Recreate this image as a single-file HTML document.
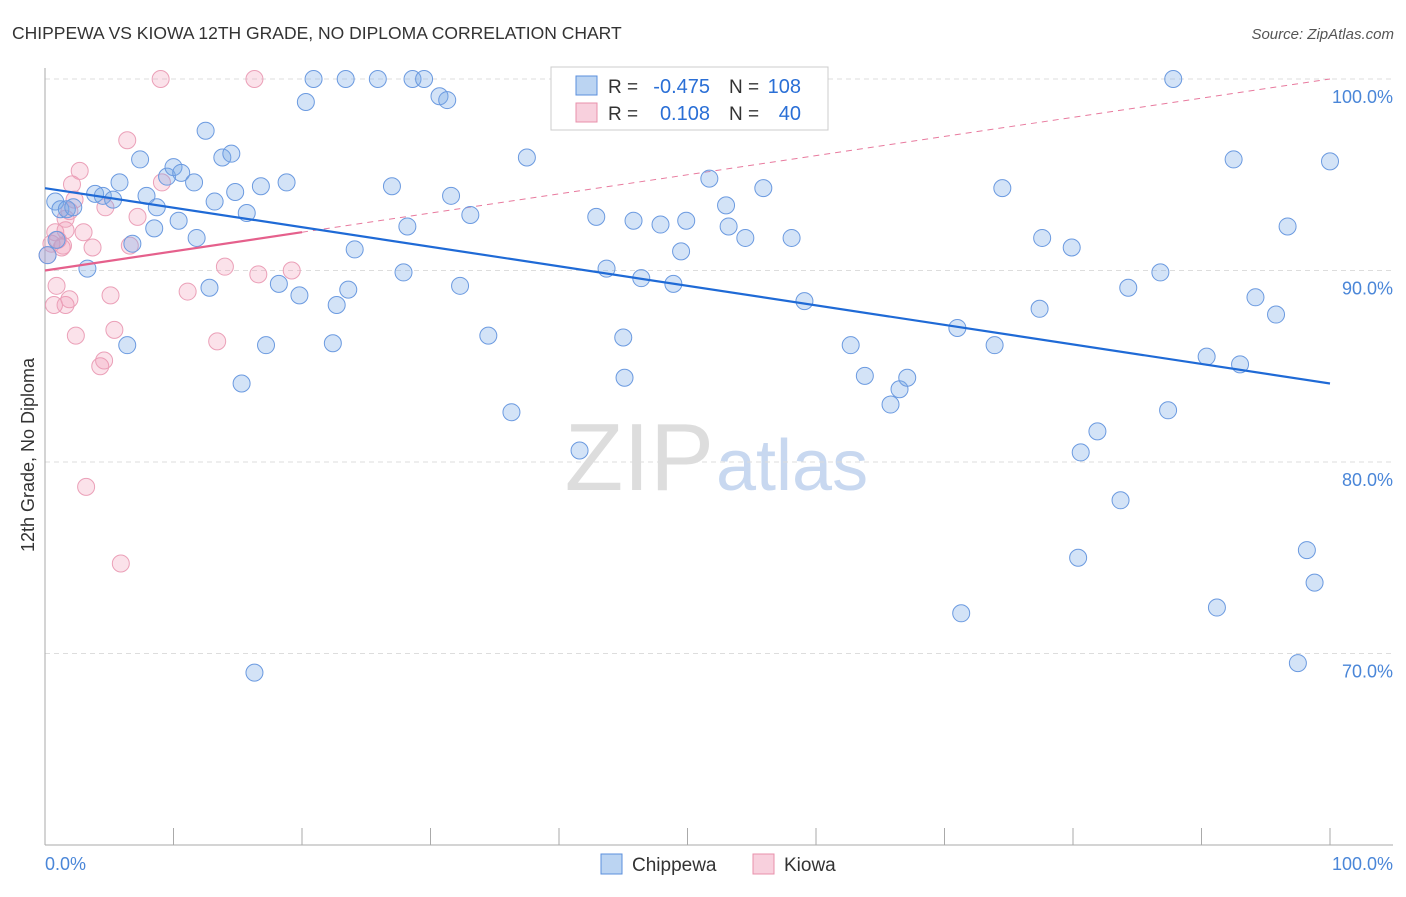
<!DOCTYPE html>
<html><head><meta charset="utf-8"><style>
body{margin:0;background:#fff;font-family:"Liberation Sans",sans-serif;}
svg text{font-family:"Liberation Sans",sans-serif;}
</style></head><body>
<svg id="c" width="1406" height="892">
<text x="12" y="39" font-size="17.5" fill="#333">CHIPPEWA VS KIOWA 12TH GRADE, NO DIPLOMA CORRELATION CHART</text>
<text x="1394" y="39" font-size="15" fill="#555" text-anchor="end" font-style="italic">Source: ZipAtlas.com</text>
<text x="714" y="490" font-size="96" fill="#ddd" text-anchor="end" font-family="Liberation Serif">ZIP</text>
<text x="716" y="490" font-size="72" fill="#c8d8f0">atlas</text>
<text transform="translate(34,455) rotate(-90)" font-size="18" fill="#333" text-anchor="middle">12th Grade, No Diploma</text>
<g id="grid"></g><g id="marks"></g>
<g>
<rect x="551" y="67" width="277" height="63" fill="#fff" stroke="#ccc"/>
<rect x="576" y="76" width="21" height="19" fill="rgba(120,170,230,0.5)" stroke="#5b8fdc"/>
<rect x="576" y="103" width="21" height="19" fill="rgba(240,150,180,0.45)" stroke="#e890ab"/>
<text x="608" y="93" font-size="19" fill="#333">R =</text>
<text x="710" y="93" font-size="20" fill="#2a6fd6" text-anchor="end">-0.475</text>
<text x="729" y="93" font-size="19" fill="#333">N =</text>
<text x="801" y="93" font-size="20" fill="#2a6fd6" text-anchor="end">108</text>
<text x="608" y="120" font-size="19" fill="#333">R =</text>
<text x="710" y="120" font-size="20" fill="#2a6fd6" text-anchor="end">0.108</text>
<text x="729" y="120" font-size="19" fill="#333">N =</text>
<text x="801" y="120" font-size="20" fill="#2a6fd6" text-anchor="end">40</text>
</g>
<g>
<rect x="601" y="854" width="21" height="20" fill="rgba(120,170,230,0.5)" stroke="#5b8fdc"/>
<text x="632" y="871" font-size="19" fill="#333">Chippewa</text>
<rect x="753" y="854" width="21" height="20" fill="rgba(240,150,180,0.45)" stroke="#e890ab"/>
<text x="784" y="871" font-size="19" fill="#333">Kiowa</text>
</g>
</svg>
<script>
const yTicks=[100,90,80,70];
const xTickLabels=["0.0%","100.0%"];
const blueX=[0.8,1.2,1.7,2.2,3.9,4.5,5.3,5.8,7.4,7.9,8.7,8.5,9.5,10.0,10.6,10.4,11.6,11.8,12.5,12.8,13.2,13.8,14.5,14.8,15.7,15.3,16.8,17.2,18.2,18.8,19.8,20.3,20.9,22.7,22.4,23.6,23.4,24.1,25.9,27.0,27.9,28.2,28.6,29.5,30.7,31.3,31.6,32.3,33.1,34.5,36.3,37.5,41.6,42.9,43.7,45.0,45.1,45.8,46.4,47.9,48.9,49.5,49.9,51.7,53.0,53.2,54.5,55.9,58.1,59.1,62.7,63.8,65.8,66.5,67.1,71.0,71.3,73.9,74.5,77.4,77.6,79.9,80.4,80.6,81.9,83.7,84.3,86.8,87.4,87.8,90.4,91.2,92.5,93.0,94.2,95.8,96.7,97.5,98.2,98.8,100,6.4,3.3,6.8,16.3,0.2,0.9];
const blueY=[93.6,93.2,93.2,93.3,94.0,93.9,93.7,94.6,95.8,93.9,93.3,92.2,94.9,95.4,95.1,92.6,94.6,91.7,97.3,89.1,93.6,95.9,96.1,94.1,93.0,84.1,94.4,86.1,89.3,94.6,88.7,98.8,100,88.2,86.2,89.0,100,91.1,100,94.4,89.9,92.3,100,100,99.1,98.9,93.9,89.2,92.9,86.6,82.6,95.9,80.6,92.8,90.1,86.5,84.4,92.6,89.6,92.4,89.3,91.0,92.6,94.8,93.4,92.3,91.7,94.3,91.7,88.4,86.1,84.5,83.0,83.8,84.4,87.0,72.1,86.1,94.3,88.0,91.7,91.2,75.0,80.5,81.6,78.0,89.1,89.9,82.7,100,85.5,72.4,95.8,85.1,88.6,87.7,92.3,69.5,75.4,73.7,95.7,86.1,90.1,91.4,69.0,90.8,91.6];
const pinkX=[0.2,0.5,0.8,1.0,1.3,1.6,1.4,0.9,0.7,1.6,1.9,2.1,2.4,2.7,3.0,3.2,3.7,4.3,4.6,4.7,5.1,5.4,5.9,6.4,6.6,7.2,9.0,9.1,11.1,13.4,14.0,16.3,16.6,19.2,1.9,2.3,1.6];
const pinkY=[90.8,91.4,92.0,91.6,91.2,92.1,91.3,89.2,88.2,88.2,88.5,94.5,86.6,95.2,92.0,78.7,91.2,85.0,85.3,93.3,88.7,86.9,74.7,96.8,91.3,92.8,100,94.6,88.9,86.3,90.2,100,89.8,90.0,93.1,93.7,92.7];
const blueTrend=[[0,94.3],[100,84.1]];
const pinkTrend=[[0,90.0],[20,92.0]];
const pinkTrendExt=[[20,92.0],[100,100.0]];

const X0=45,X1=1330,Y100=79,PXPER=19.15;
const sx=v=>X0+(X1-X0)*v/100;
const sy=v=>Y100+(100-v)*PXPER;
const NS="http://www.w3.org/2000/svg";
function mk(t,a,p){const e=document.createElementNS(NS,t);for(const k in a)e.setAttribute(k,a[k]);p.appendChild(e);return e;}
const g=document.getElementById('grid'),m=document.getElementById('marks');
yTicks.forEach(t=>{
 const l=mk('line',{x1:45,x2:1393,y1:sy(t),y2:sy(t),stroke:'#ddd','stroke-dasharray':'5,4'},g);
 
 
 const tx=mk('text',{x:1393,y:sy(t)+24,'font-size':18,fill:'#4a86d8','text-anchor':'end'},g);
 tx.textContent=t.toFixed(1)+'%';
 
 
});
const ax=mk('line',{x1:45,x2:1393,y1:845,y2:845,stroke:'#aaa'},g);


const ay=mk('line',{x1:45,x2:45,y1:68,y2:845,stroke:'#aaa'},g);


for(let i=0;i<=10;i++){
 const t=mk('line',{x1:sx(i*10),x2:sx(i*10),y1:828,y2:845,stroke:'#aaa'},g);
 
 
}
[[0,'start',45],[100,'end',1393]].forEach((d,i)=>{
 const t=mk('text',{x:d[2],y:870,'font-size':18,fill:'#4a86d8','text-anchor':d[1]},g);
 t.textContent=xTickLabels[i];
 
 
});
const pe=mk('line',{x1:sx(pinkTrendExt[0][0]),y1:sy(pinkTrendExt[0][1]),x2:sx(pinkTrendExt[1][0]),y2:sy(pinkTrendExt[1][1]),stroke:'#e87a9e','stroke-width':1,'stroke-dasharray':'6,5'},m);


pinkX.forEach((x,i)=>{
 const c=mk('circle',{cx:sx(x),cy:sy(pinkY[i]),r:8.5,fill:'rgba(240,150,180,0.28)',stroke:'#eba0b8','stroke-width':1},m);
 
 
});
blueX.forEach((x,i)=>{
 const c=mk('circle',{cx:sx(x),cy:sy(blueY[i]),r:8.5,fill:'rgba(120,170,230,0.33)',stroke:'#6b9ae0','stroke-width':1},m);
 
 
});
const bt=mk('line',{x1:sx(blueTrend[0][0]),y1:sy(blueTrend[0][1]),x2:sx(blueTrend[1][0]),y2:sy(blueTrend[1][1]),stroke:'#1f6ad6','stroke-width':2.2},m);


const pt=mk('line',{x1:sx(pinkTrend[0][0]),y1:sy(pinkTrend[0][1]),x2:sx(pinkTrend[1][0]),y2:sy(pinkTrend[1][1]),stroke:'#e5608c','stroke-width':2.2},m);


</script>
</body></html>
